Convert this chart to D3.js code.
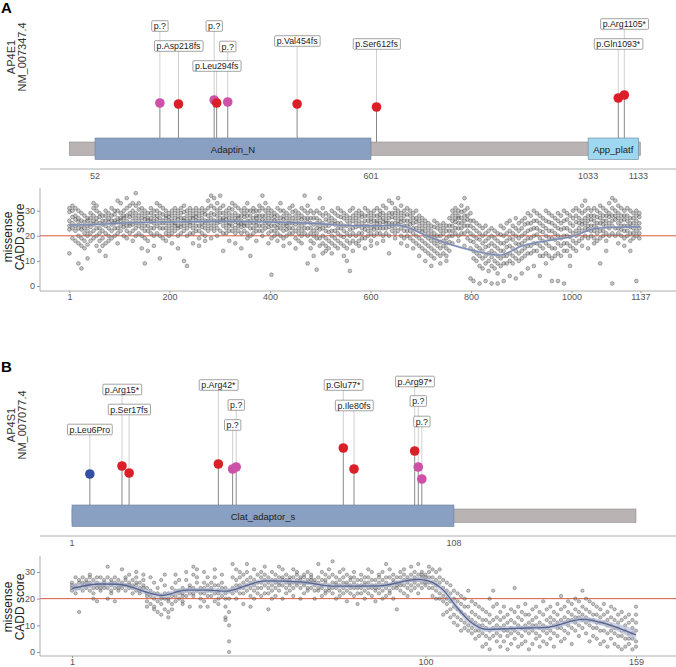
<!DOCTYPE html>
<html>
<head>
<meta charset="utf-8">
<script src="https://cdn.jsdelivr.net/npm/d3@7"></script>
<style>
  body { margin: 0; background: #fff; }
  text { font-family: "Liberation Sans", Arial, sans-serif; }
</style>
</head>
<body>
<svg id="chart" width="676" height="667"></svg>
<script>
// ---------- panel A : AP4E1 ----------
const lenA = 1137
const domainsA = ['Adaptin_N', 'App_platf']
const domStartA = [52, 1033]
const domEndA = [601, 1133]
const domColA = ['#8aa0c2', '#9dd8f0']
const protTicksA = [52, 601, 1033, 1133]
const mutLabelA = ['p.?', 'p.Asp218fs', 'p.?', 'p.?', 'p.Leu294fs', 'p.Val454fs', 'p.Ser612fs', 'p.Gln1093*', 'p.Arg1105*']
const mutPosA = [181, 218, 289, 316, 294, 454, 612, 1093, 1105]
const mutTypeA = ['unk', 'trunc', 'unk', 'unk', 'trunc', 'trunc', 'trunc', 'trunc', 'trunc']
const mutHeightA = [3.9, 3.8, 4.2, 4.0, 3.9, 3.8, 3.5, 4.4, 4.7]
const mutLabelHA = [11.6, 9.6, 11.6, 9.55, 7.6, 10.1, 9.8, 9.8, 11.8]
const scoreTicksA = [1, 200, 400, 600, 800, 1000, 1137]
// missense CADD scores, "residue: scores"
const caddA = [
  '1:31 29.5 26 24 22.5 13', '7:32 30 27.5 25 23 19', '13:31 28 26.5 24 22 18', '19:30 27 25.5 23 20 17 9',
  '25:29 26 24 22.5 19 16 7', '31:28 25.5 23 21 18 15', '37:27 26 24 22 20 16.5 11', '43:29 27 25 23.5 21 18',
  '49:33 31 28 26 24.5 22 19', '55:32 30 27 25.5 23 20 16', '61:29 27.5 25 23 21 18 14', '67:28 26 24.5 22 19 16',
  '73:30 28 26 24 21 17 12', '79:29 27 25.5 23 20 18', '85:31 28 26 24.5 22 19', '91:30 28.5 26 25 23 20',
  '97:34 30 27 25.5 23 21 17', '103:33 29 27 26 24 22', '109:30 28 27 25 23.5 20', '115:35 31 28 26 24 22 19',
  '121:32 29 27.5 25 24 21', '127:33 30 28 26 24.5 22 18', '133:37 32 29 27 25 23 20', '139:33 30.5 28 26 24 21',
  '145:31 29 27 25 23 20 15', '151:30 28 26.5 24 22 19 9', '157:29 27 26 24 22 18 14', '163:31 29 27 25.5 23 21',
  '169:30 28 26 25 23 20 16', '175:33 30 28 26.5 24 21', '181:32 29 27 25 23 20 11', '187:31 28.5 26 25 23 19',
  '193:30 28 27 25 23 21 18', '199:29 27.5 26 24 22 20', '205:30 28 26 25 23 21 17', '211:31 29 27 25 24 22',
  '217:30 28 26.5 24 23 20 15', '223:31 29 27 25 23.5 21', '229:32 29.5 27 26 24 22 10', '235:30 28 26 25 23 20 8',
  '241:31 29 27 25.5 24 21', '247:30 28 27 25 23 21 17', '253:31 29 27.5 26 24 22', '259:30 28 26 24 22 19 16',
  '265:31 29 27 25 23.5 21', '271:30 28.5 26 25 23 20 18', '277:34 31 28 26 24 22', '283:36 32 29 27 25 23 19',
  '289:35 31 28.5 26 24 22', '295:33 30 28 26 25 23 20', '301:36 31 29 27 25.5 22', '307:32 29 27 26 24 21 14',
  '313:30 28 26.5 25 23 21', '319:31 29 27 25 24 22 18', '325:33 30.5 28 26 24 22', '331:32 29 27 25.5 23 21 17',
  '337:31 28 27 25 24 22', '343:30 28 26 25 23.5 21 15', '349:31 29 27.5 25 24 22', '355:33 30 28 26 24 21 19',
  '361:30 28 26 25 23 20 12', '367:31 29.5 27 25 23 21', '373:30 28 27 25.5 24 22 18', '379:32 30 28 26 24 22',
  '385:36 31 28 26.5 24 22 20', '391:33 30 28 26 25 23', '397:31 29 27 25 23.5 21 17', '403:30 28 26 24 22 19 4.5',
  '409:29 27.5 26 24 22 20', '415:31 28 26 24.5 23 21 18', '421:33 30 27 25 23 20', '427:30 28 26.5 24 22 19 16',
  '433:29 27 25 24 22.5 20', '439:31 28 26 25 23 21 17', '445:32 29.5 27 25 23 21', '451:30 28 26 24.5 22 19 15',
  '457:29 27 25 23 21 18', '463:31 28 26.5 24 22 20 17', '469:36 30 27 25 23 21', '475:32 29 27 25.5 23 20 9',
  '481:30 27 25 23 21 18 15', '487:29 27 24.5 22 20 17 12', '493:30 27 25 23 21 19 6.5', '499:35 29 26 24 22.5 19 16',
  '505:31 28 25 23 20 17 13', '511:29 26.5 24 22 19 16 14', '517:28 26 24 21.5 18 15', '523:30 27 25 22 20 17 13',
  '529:29 26 24.5 22 19 16', '535:31 28 25 23 21 18 15', '541:30 27.5 25 23 20 17', '547:29 27 24 22 19.5 16 12',
  '553:28 26 24 21 18 15 10', '559:30 27 25 22.5 20 17 6', '565:31 28 26 23 21 18 14', '571:29 27 25 23.5 20 17',
  '577:30 28 26 24 21 18 16', '583:29 27.5 25 23 21 19', '589:31 28 26 24 22.5 19 15', '595:30 28 26 24 22 20',
  '601:29 27 25.5 23 21 18 16', '607:30 28 26 24 22.5 20', '613:31 28 26 25 23 21 17', '619:30 28.5 27 25 23 21',
  '625:32 29 27 25.5 23 20 18', '631:31 28 26 25 23 21', '637:34 29 27 25 23.5 20 13', '643:33 29 27.5 25 24 22',
  '649:31 29 27 25 23 21 19', '655:35 30 28 26 24.5 22', '661:32 29 27 25.5 23 20 17', '667:30 28 26 24 22 19',
  '673:31 28.5 26 24 22 20 16', '679:30 28 26 24.5 22 19', '685:29 27 25 23 21 18 15', '691:30 27 25.5 23 20 17',
  '697:28 26 24 22 19 16 12', '703:27 25 23 21.5 18 15', '709:26 24 22 20 17 14 10', '715:25 23 21 19 16 13',
  '721:24 22 20 18 15 12 8', '727:26 23.5 21 19 17 14 11', '733:25 23 20 18 16 13', '739:24 22 20 17.5 15 12 9',
  '745:25 23 21 18 16 13', '751:24 22 19 17 15 12 10', '757:27 24 22 20 17.5 14', '763:30 28 26 24 22 20 17',
  '769:31 29 27 25.5 23 21', '775:30 28 27 25 23 20 18', '781:32 29.5 27 25 23 21', '787:35 30 28 26 24 21 16',
  '793:31 28 26.5 24 22 19', '799:29 26 24 21 18 15 3', '805:26 23 20 17.5 14 11 2', '811:25 22 19 16 13 10',
  '817:24 21 18.5 15 12 8 1', '823:23 20 17 14 11 7', '829:24 21 18 15.5 12 9 2', '835:22 19 16 13 10 6',
  '841:23 20 17 14 11.5 8 1', '847:22 19 16 13 10 7', '853:21 18 15 12 9 5 1', '859:24 20.5 17 14 11 8',
  '865:23 20 17 14 12 9 2', '871:25 21 18 15.5 12 9', '877:26 22 19 16 13 10 4', '883:24 21 18.5 15 12 9',
  '889:27 23 20 17 14 11 3', '895:25 22 19 16.5 13 10', '901:26 23 20 17 14 11 5', '907:27 24.5 21 18 15 12',
  '913:29 25 22 19 16 13 7', '919:28 25 22.5 19 16 13', '925:30 26 23 20 17 14 8', '931:29 26 23 20.5 17 14',
  '937:28 25 22 19 16 12 4', '943:27 24 21.5 18 15 12', '949:30 26 23 20 17 13 9', '955:29 25.5 22 19 16 12',
  '961:28 25 22 19 15 11 2', '967:27 24 21 18.5 15 12', '973:29 26 23 20 17 13 2', '979:28 25 22.5 19 16 12',
  '985:30 26 23 20 17 14 1', '991:29 26.5 23 20 17 14', '997:28 25 22 19.5 16 12 8', '1003:30 27 24 21 18 15',
  '1009:31 28 25.5 22 20 17 14', '1015:30 27 25 23 21 18', '1021:32 29 26 24.5 22 19 16', '1027:34 30 27 25 23 20',
  '1033:31 28 26 24 22.5 19 15', '1039:30 28 26.5 24 22 20', '1045:31 28 26 24 22 19 17', '1051:30 27.5 25 23 21 18',
  '1057:32 29 27 25 22 19 9', '1063:31 28 26 24.5 22 20', '1069:30 28 26 24 21 18 14', '1075:33 29 27.5 25 23 20',
  '1081:35 31 28 26 24 21 1', '1087:34 30 28 26.5 23 20', '1093:32 29 27 25 23 21 17', '1099:31 28 26 24 22.5 20',
  '1105:30 28 26.5 24 22 19 16', '1111:31 28 26 24 22 20', '1117:30 27 25 23.5 21 18 14', '1123:29 27 25 23 21 19',
  '1129:30 28 26 24 22 20 2', '1135:29 27.5 25 23 21 19'
]
const smoothXA = [1, 50, 100, 200, 300, 400, 500, 560, 620, 653, 712, 760, 800, 858, 898, 950, 1000, 1050, 1100, 1137]
const smoothYA = [24.3, 24.5, 25, 25.5, 25.8, 25.5, 24.8, 24, 24, 24.3, 20, 16.5, 14.3, 12.3, 15.7, 18, 19.7, 23, 23.5, 23.6]

// ---------- panel B : AP4S1 ----------
const lenB = 159
const domainsB = ['Clat_adaptor_s']
const domStartB = [1]
const domEndB = [108]
const domColB = ['#8aa0c2']
const protTicksB = [1, 108]
const mutLabelB = ['p.Leu6Pro', 'p.Arg15*', 'p.Ser17fs', 'p.Arg42*', 'p.?', 'p.?', 'p.Glu77*', 'p.Ile80fs', 'p.Arg97*', 'p.?', 'p.?']
const mutPosB = [6, 15, 17, 42, 46, 47, 77, 80, 97, 98, 99]
const mutTypeB = ['miss', 'trunc', 'trunc', 'trunc', 'unk', 'unk', 'trunc', 'trunc', 'trunc', 'unk', 'unk']
const mutHeightB = [3.5, 4.3, 3.6, 4.5, 4.0, 4.2, 6.1, 4.0, 5.8, 4.2, 3.0]
const mutLabelHB = [7.95, 11.95, 9.95, 12.4, 8.4, 10.4, 12.4, 10.35, 12.75, 10.8, 8.75]
const scoreTicksB = [1, 100, 159]
const caddB = [
  '1:26 24 23 25', '2:28 25 24 22', '3:15 24 27 26', '4:28 26 25 23', '5:27 25 24 26', '6:29 26 23 25 28',
  '7:24 22 20 27', '8:28 26 25 24 19', '9:25 23 24 28', '10:27 26 25 24', '11:32 28 24 20', '12:26 25 23 22 27',
  '13:19 24 26 28', '14:27 25 24 23', '15:31 26 25 24', '16:28 27 25 23', '17:29 26 24 25', '18:27 25 24 22',
  '19:30 28 26 25 23', '20:26 24 23 22', '21:29 27 25 24', '22:24 22 21 19 17', '23:28 23 21 18', '24:26 22 20 17 16',
  '25:24 22 19 15', '26:27 21 20 18 14', '27:29 25 22 20 16', '28:22 20 19 15 13', '29:24 21 18 16', '30:29 26 23 21 19',
  '31:27 23 22 20', '32:24 22 21 19 18', '33:30 27 23 21', '34:25 24 22 17', '35:32 29 24 22 21', '36:31 28 26 23',
  '37:24 22 20 17', '38:30 26 24 22 19', '39:28 25 23 21 17', '40:26 24 23 21', '41:31 28 25 22 19', '42:25 23 22 20 18',
  '43:29 26 24 21', '44:24 22 20 17 13 12', '45:23 20 15 10 4 0', '46:33 28 24 22', '47:31 27 25 23 20', '48:30 28 25 24 22',
  '49:29 26 24 22 18', '50:33 30 27 25 23', '51:28 26 24 21 17', '52:31 27 25 23 20', '53:29 26 24 22', '54:30 28 26 24 21',
  '55:32 29 27 25 22', '56:28 26 24 22 16', '57:30 27 25 23 20', '58:29 27 26 24 21', '59:32 28 26 25 23', '60:31 28 27 25 20',
  '61:29 27 26 24 22', '62:28 27 26 25 23', '63:31 28 26 24 21', '64:30 29 27 26 25', '65:28 27 26 24 20', '66:29 28 26 25 22',
  '67:30 27 26 24 23', '68:29 28 27 26 24', '69:27 26 25 23 20', '70:33 28 26 24 23', '71:30 27 25 24 21', '72:29 27 26 23 22',
  '73:31 28 25 24 23', '74:34 29 26 24 22', '75:28 26 25 24 20', '76:30 27 25 23 21', '77:31 28 26 24 22', '78:29 26 25 23 19',
  '79:28 27 25 24 22', '80:30 28 26 24 21', '81:27 25 24 22 18', '82:29 27 25 24 22', '83:28 26 25 23 20', '84:31 28 26 24 22',
  '85:30 27 25 24 21', '86:27 25 24 23 19', '87:29 28 26 24 22', '88:30 27 25 23 20', '89:33 28 26 24 21', '90:31 28 25 23 22',
  '91:29 27 26 24 20', '92:28 26 25 24 16', '93:30 28 26 25 23', '94:31 29 27 25 22', '95:28 27 26 24 21', '96:32 29 27 25 23',
  '97:30 28 27 26 24', '98:33 29 27 25 22', '99:30 29 28 26 24', '100:29 28 27 26 25', '101:32 30 28 26 24', '102:31 28 26 24 21',
  '103:30 27 25 23 20', '104:31 28 26 22 20', '105:27 24 21 19 14', '106:26 23 20 18 15', '107:25 22 19 16 13', '108:23 20 17 14 11',
  '109:22 19 16 13 10', '110:21 18 15 12 8', '111:20 17 14 11 9', '112:23 17 13 10 8', '113:19 15 12 9 7', '114:18 14 11 8 5',
  '115:17 13 10 8 6', '116:16 12 10 7 2', '117:15 12 9 6 3', '118:20 14 11 8 5 1', '119:23 17 12 9 6', '120:18 13 10 7 4',
  '121:15 12 9 6 2', '122:17 13 10 8 4', '123:14 11 8 6 1', '124:16 12 9 7 3', '125:24 15 11 8 5', '126:17 13 10 7 2',
  '127:15 12 9 6 3', '128:18 14 10 8 4', '129:14 11 9 7 1', '130:16 12 10 8 3', '131:17 13 10 7 5', '132:15 11 9 6 2',
  '133:19 14 10 8 4', '134:16 12 9 7 3', '135:17 13 11 8 5', '136:15 12 10 7 2', '137:18 14 11 9 6', '138:21 16 12 9 4',
  '139:17 13 11 8 5', '140:19 15 12 10 7', '141:18 14 12 9 3', '142:20 16 13 11 8', '143:19 15 13 10 6', '144:23 17 14 12 9',
  '145:20 16 13 11 7', '146:19 15 12 10 4', '147:18 14 12 9 6', '148:17 14 11 9 5', '149:16 13 11 8 3', '150:18 14 11 8 4',
  '151:15 12 10 7 2', '152:17 13 10 8 5', '153:16 12 9 7 3', '154:14 11 9 6 2', '155:15 12 8 6 1', '156:13 10 8 5 2',
  '157:14 11 7 5 3', '158:12 9 7 5 1', '159:17 14 11 8 4 2'
]
const smoothXB = [1, 9, 14, 23, 26, 33, 39, 44, 50, 55, 65, 74, 87, 98, 101, 105, 108.7, 112.5, 117, 125.6, 134, 144, 151.7, 159]
const smoothYB = [23.9, 25.5, 25.4, 22, 21.2, 23.2, 23.2, 22.8, 25, 26.7, 26.3, 24.7, 24.8, 27.2, 26.6, 23.2, 17, 11.4, 8.5, 8.9, 9.2, 12.2, 10.1, 6.4]
const smoothSeB = [1.5, 1, 0.9, 0.9, 1, 0.9, 0.9, 1, 0.9, 0.8, 0.8, 0.8, 0.8, 0.9, 1, 1.2, 1.3, 1.2, 1, 0.9, 0.9, 1, 1.2, 2]

const typeColor = { trunc: '#db1f26', unk: '#cd51a8', miss: '#3350a3' }

const svg = d3.select('#chart')

function parseScores(rows) {
  const out = []
  rows.forEach(r => {
    const [p, vals] = r.split(':')
    vals.trim().split(/\s+/).forEach(v => out.push({ pos: +p, score: +v }))
  })
  return out
}

function drawPanel(c) {
  const g = svg.append('g')
  const x = d3.scaleLinear().domain([1, c.len]).range(c.xRange)

  // panel letter + gene
  g.append('text').attr('x', 1).attr('y', c.letterY).attr('font-size', 15).attr('font-weight', 'bold').text(c.letter)
  const gl = g.append('g').attr('transform', `translate(15,${c.geneY}) rotate(-90)`)
  gl.append('text').attr('text-anchor', 'middle').attr('font-size', 11).attr('fill', '#333').text(c.gene)
  gl.append('text').attr('y', 10.5).attr('text-anchor', 'middle').attr('font-size', 11).attr('fill', '#333').text(c.tx)

  // lollipop track
  const h = d3.scaleLinear().domain([0, 10]).range([c.bbTop, c.bbTop - 100])
  const muts = c.labels.map((l, i) => ({ label: l, pos: c.pos[i], type: c.type[i], hgt: c.hgt[i], lab: c.labH[i] }))

  g.selectAll('.up').data(muts).enter().append('line').attr('class', 'up')
    .attr('x1', d => x(d.pos)).attr('x2', d => x(d.pos))
    .attr('y1', d => h(d.hgt)).attr('y2', d => h(d.lab))
    .attr('stroke', '#c4c4c4').attr('stroke-width', 0.8)
  g.selectAll('.stem').data(muts).enter().append('line').attr('class', 'stem')
    .attr('x1', d => x(d.pos)).attr('x2', d => x(d.pos))
    .attr('y1', d => h(d.hgt)).attr('y2', c.bbTop)
    .attr('stroke', '#7a7a7a').attr('stroke-width', 0.9)

  g.append('rect').attr('x', x(1)).attr('y', c.bbTop).attr('width', x(c.len) - x(1)).attr('height', 13.5)
    .attr('fill', '#b9b3b3').attr('stroke', '#8f8f8f').attr('stroke-width', 0.6)
  c.domains.forEach((d, i) => {
    const x0 = x(c.domStart[i]), x1 = x(c.domEnd[i])
    g.append('rect').attr('x', x0).attr('y', c.bbTop - 4).attr('width', x1 - x0).attr('height', 21.5)
      .attr('fill', c.domCol[i]).attr('stroke', '#6f7f99').attr('stroke-width', 0.6)
    g.append('text').attr('x', (x0 + x1) / 2).attr('y', c.bbTop + 10.5).attr('text-anchor', 'middle')
      .attr('font-size', 9.5).attr('fill', '#222').text(d)
  })

  g.selectAll('.pin').data(muts).enter().append('circle').attr('class', 'pin')
    .attr('cx', d => x(d.pos)).attr('cy', d => h(d.hgt)).attr('r', 4.8)
    .attr('fill', d => typeColor[d.type])

  const lab = g.selectAll('.lab').data(muts).enter().append('g').attr('class', 'lab')
    .attr('transform', d => `translate(${x(d.pos)},${h(d.lab)})`)
  lab.append('text').attr('text-anchor', 'middle').attr('y', 3.1).attr('font-size', 8.8).attr('fill', '#222')
    .text(d => d.label)
    .each(function () {
      const b = this.getBBox()
      d3.select(this.parentNode).insert('rect', 'text')
        .attr('x', b.x - 2).attr('y', -5.3).attr('width', b.width + 4).attr('height', 10.6)
        .attr('rx', 1).attr('fill', '#fff').attr('stroke', '#666').attr('stroke-width', 0.6)
    })

  // protein axis
  g.append('line').attr('x1', 40).attr('x2', 676).attr('y1', c.protAxisY).attr('y2', c.protAxisY)
    .attr('stroke', '#999').attr('stroke-width', 0.8)
  g.selectAll('.ptick').data(c.protTicks).enter().append('text').attr('class', 'ptick')
    .attr('x', d => x(d)).attr('y', c.protAxisY + 10).attr('text-anchor', 'middle')
    .attr('font-size', 9).attr('fill', '#555').text(d => d)

  // CADD scatter
  const y = d3.scaleLinear().domain([0, 30]).range(c.yRange)
  const pts = parseScores(c.cadd)

  g.append('line').attr('x1', 40).attr('x2', 676).attr('y1', y(20)).attr('y2', y(20))
    .attr('stroke', '#d9583f').attr('stroke-width', 1)

  g.selectAll('.dot').data(pts).enter().append('circle').attr('class', 'dot')
    .attr('cx', d => x(d.pos)).attr('cy', d => y(d.score)).attr('r', c.dotR)
    .attr('fill', '#6e6e6e').attr('fill-opacity', 0.4)
    .attr('stroke', '#2e2e2e').attr('stroke-opacity', 0.55).attr('stroke-width', 0.6)

  const sm = c.smX.map((v, i) => ({ pos: v, val: c.smY[i], se: c.smSe ? c.smSe[i] : 0.5 }))
  g.append('path').datum(sm)
    .attr('d', d3.area().curve(d3.curveMonotoneX).x(d => x(d.pos)).y0(d => y(d.val - d.se)).y1(d => y(d.val + d.se)))
    .attr('fill', '#aab3d0').attr('fill-opacity', 0.6)
  g.append('path').datum(sm)
    .attr('d', d3.line().curve(d3.curveMonotoneX).x(d => x(d.pos)).y(d => y(d.val)))
    .attr('fill', 'none').attr('stroke', c.smCol).attr('stroke-width', 1.3)

  const yAx = g.append('g').attr('transform', 'translate(40,0)')
    .call(d3.axisLeft(y).tickValues([0, 10, 20, 30]).tickSize(3).tickPadding(2))
  yAx.select('.domain').remove()
  yAx.append('line').attr('y1', y(c.yTop)).attr('y2', y(c.yBot)).attr('stroke', '#999').attr('stroke-width', 0.8)
  const xAx = g.append('g').attr('transform', `translate(0,${y(c.yBot)})`)
    .call(d3.axisBottom(x).tickValues(c.scoreTicks).tickFormat(d3.format('d')).tickSize(2).tickPadding(1))
  xAx.select('.domain').remove()
  xAx.append('line').attr('x1', 40).attr('x2', 676).attr('stroke', '#999').attr('stroke-width', 0.8)
  g.selectAll('.tick line').attr('stroke', '#999')
  g.selectAll('.tick text').attr('fill', '#555').attr('font-size', 9)
    .attr('font-family', '"Liberation Sans", Arial, sans-serif')

  const yl = g.append('g').attr('transform', `translate(12,${c.ytitleY}) rotate(-90)`)
  yl.append('text').attr('text-anchor', 'middle').attr('font-size', 12).attr('fill', '#222').text('missense')
  yl.append('text').attr('y', 11.5).attr('text-anchor', 'middle').attr('font-size', 12).attr('fill', '#222').text('CADD score')
}

drawPanel({
  letter: 'A', letterY: 13, gene: 'AP4E1', tx: 'NM_007347.4', geneY: 57,
  len: lenA, xRange: [69.4, 640.4], bbTop: 142,
  domains: domainsA, domStart: domStartA, domEnd: domEndA, domCol: domColA,
  labels: mutLabelA, pos: mutPosA, type: mutTypeA, hgt: mutHeightA, labH: mutLabelHA,
  protAxisY: 169, protTicks: protTicksA,
  yRange: [286, 210.7], yTop: 39, yBot: -2, dotR: 1.9, cadd: caddA, scoreTicks: scoreTicksA,
  smX: smoothXA, smY: smoothYA, smSe: null, smCol: '#7a8ab0', ytitleY: 237
})

drawPanel({
  letter: 'B', letterY: 372, gene: 'AP4S1', tx: 'NM_007077.4', geneY: 425,
  len: lenB, xRange: [72, 636], bbTop: 509,
  domains: domainsB, domStart: domStartB, domEnd: domEndB, domCol: domColB,
  labels: mutLabelB, pos: mutPosB, type: mutTypeB, hgt: mutHeightB, labH: mutLabelHB,
  protAxisY: 536, protTicks: protTicksB,
  yRange: [652, 572], yTop: 36, yBot: -1.5, dotR: 1.7, cadd: caddB, scoreTicks: scoreTicksB,
  smX: smoothXB, smY: smoothYB, smSe: smoothSeB, smCol: '#56648c', ytitleY: 607
})
</script>
</body>
</html>
